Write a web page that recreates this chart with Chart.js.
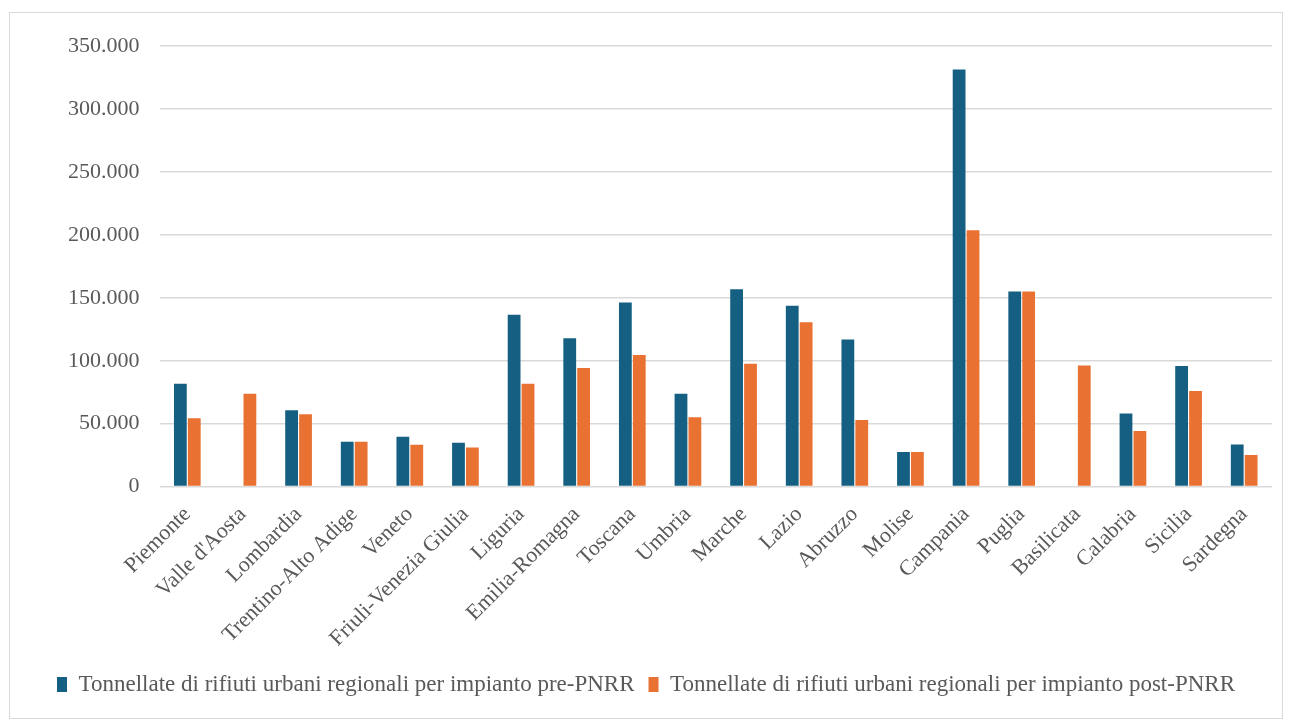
<!DOCTYPE html>
<html>
<head>
<meta charset="utf-8">
<script src="https://cdn.jsdelivr.net/npm/chart.js@4.4.1/dist/chart.umd.min.js"></script>
<style>
    html, body { margin: 0; padding: 0; background: #fff; }
    #box {
        position: absolute;
        left: 9px; top: 12px;
        width: 1274px; height: 707px;
        border: 1.5px solid #d9d9d9;
        box-sizing: border-box;
    }
    canvas { display: block; }
</style>
</head>
<body>
<div id="box"><canvas id="barGraph"></canvas></div>
<script>
// regioni
const regioni = ['Piemonte', "Valle d'Aosta", 'Lombardia', 'Trentino-Alto Adige', 'Veneto',
    'Friuli-Venezia Giulia', 'Liguria', 'Emilia-Romagna', 'Toscana', 'Umbria', 'Marche',
    'Lazio', 'Abruzzo', 'Molise', 'Campania', 'Puglia', 'Basilicata', 'Calabria', 'Sicilia', 'Sardegna'];

// tonnellate per impianto
const prePNRR = [81700, 0, 60700, 35600, 39600, 34800, 136600, 117900, 146200, 73700, 156800,
    143800, 116900, 27400, 331500, 155000, 0, 58000, 95800, 33500];
const postPNRR = [54300, 73700, 57500, 35600, 33200, 31100, 81700, 94200, 104600, 55100, 97700,
    130700, 53000, 27400, 203700, 155000, 96300, 44200, 75900, 25000];

const yTicks = [0, 50000, 100000, 150000, 200000, 250000, 300000, 350000];

const serieLabels = ['Tonnellate di rifiuti urbani regionali per impianto pre-PNRR',
    'Tonnellate di rifiuti urbani regionali per impianto post-PNRR'];

function formatta(v) {
    return String(v).replace(/\B(?=(\d{3})+(?!\d))/g, '.');
}

document.addEventListener('DOMContentLoaded', function() {
    Chart.defaults.font.family = '"Liberation Serif", "DejaVu Serif", serif';
    Chart.defaults.font.size = 22;
    Chart.defaults.color = '#595959';

    let ctx = document.getElementById('barGraph').getContext('2d');
    new Chart(ctx, {
        type: 'bar',
        data: {
            labels: regioni,
            datasets: [
                {
                    label: serieLabels[0],
                    data: prePNRR,
                    backgroundColor: '#156082',
                    categoryPercentage: 0.5,
                    barPercentage: 0.92
                },
                {
                    label: serieLabels[1],
                    data: postPNRR,
                    backgroundColor: '#e97132',
                    categoryPercentage: 0.5,
                    barPercentage: 0.92
                }
            ]
        },
        options: {
            responsive: true,
            maintainAspectRatio: false,
            animation: false,
            layout: { padding: { left: 10, right: 10, top: 19, bottom: 12 } },
            plugins: {
                tooltip: { enabled: false },
                legend: {
                    position: 'bottom',
                    labels: {
                        boxWidth: 10,
                        boxHeight: 15,
                        padding: 14,
                        color: '#595959',
                        font: { size: 23 }
                    }
                }
            },
            scales: {
                x: {
                    grid: { display: false },
                    border: { display: false },
                    ticks: {
                        minRotation: 45,
                        maxRotation: 45,
                        autoSkip: false,
                        padding: 7
                    }
                },
                y: {
                    min: 0,
                    max: 350000,
                    afterBuildTicks: function(axis) {
                        axis.ticks = yTicks.map(v => ({ value: v }));
                    },
                    afterFit: function(axis) {
                        axis.width = 139.5;
                    },
                    border: { display: false },
                    grid: { color: '#d9d9d9', lineWidth: 1.5, drawTicks: false },
                    ticks: {
                        padding: 20,
                        callback: function(value) { return formatta(value); }
                    }
                }
            }
        }
    });
});
</script>
</body>
</html>
